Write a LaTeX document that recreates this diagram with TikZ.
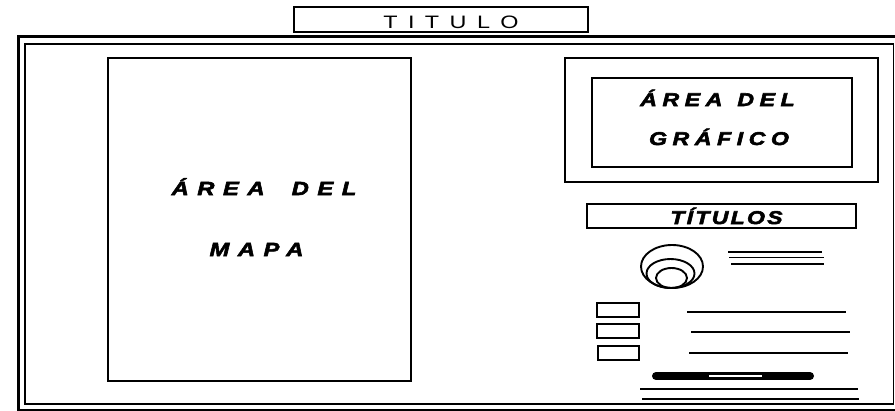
\documentclass[tikz,border=0pt]{standalone}
\usepackage{fontspec}
\setmainfont{Liberation Sans}
\newfontfamily\areafont{Liberation Sans Bold Italic}[LetterSpace=45, FakeStretch=1.25, FakeBold=3]
\newfontfamily\grfont{Liberation Sans Bold Italic}[LetterSpace=30, FakeStretch=1.25, FakeBold=3]
\newfontfamily\titfont{Liberation Sans Bold Italic}[LetterSpace=12, FakeStretch=1.25, FakeBold=3]
\newfontfamily\topfont{Liberation Sans}[LetterSpace=58, FakeStretch=1.3]
\begin{document}
\begin{tikzpicture}[x=1pt,y=-1pt,
  box/.style={draw, line width=1.4pt, inner sep=0pt},
  txt/.style={inner sep=0pt, anchor=base},
  bigtxt/.style={txt, font=\areafont\fontsize{19}{19}\selectfont},
  grtxt/.style={txt, font=\grfont\fontsize{18.5}{18.5}\selectfont},
  legline/.style={line width=1.4pt},
  ring/.style={line width=1.9pt}]
\useasboundingbox (0,0) rectangle (895,410);
% frame
\draw[line width=3pt] (18,36) rectangle (898,410);
\draw[line width=1.4pt] (25,44) rectangle (893.5,404);
% title
\node[box, minimum width=294pt, minimum height=25pt] (title) at (441,19.5) {};
\node[txt, font=\topfont\fontsize{18}{18}\selectfont] (titlet) at (451,28) {TITULO};
% map
\node[box, minimum width=303pt, minimum height=323pt] (map) at (259.5,219.5) {};
\node[bigtxt] (mapt1) at (264,195) {ÁREA\hspace{12pt} DEL};
\node[bigtxt] (mapt2) at (256.5,256) {MAPA};
% graph
\node[box, minimum width=313pt, minimum height=124pt] (graphout) at (721.5,120) {};
\node[box, minimum width=260pt, minimum height=89pt] (graphin) at (722,122.5) {};
\node[grtxt] (grt1) at (717.5,106) {ÁREA\hspace{3pt} DEL};
\node[grtxt] (grt2) at (719,145) {GRÁFICO};
% titulos
\node[box, minimum width=269pt, minimum height=24pt] (titulos) at (721.5,216) {};
\node[txt, font=\titfont\fontsize{18.5}{18.5}\selectfont] (titulost) at (726.5,224) {TÍTULOS};
% concentric ellipses
\draw[ring] (672,266.5) ellipse [x radius=31, y radius=21.5];
\draw[ring] (670.5,273.5) ellipse [x radius=24, y radius=14.5];
\draw[ring] (671.5,278) ellipse [x radius=15.5, y radius=10];
\coordinate (l1a) at (728,252); \coordinate (l1b) at (822,252);
\coordinate (l2a) at (729,257.5); \coordinate (l2b) at (824,257.5);
\coordinate (l3a) at (731,264); \coordinate (l3b) at (824,264);
\draw[legline] (l1a) -- (l1b);
\draw[legline] (l2a) -- (l2b);
\draw[legline] (l3a) -- (l3b);
% small boxes
\node[box, line width=1.8pt, minimum width=42pt, minimum height=14pt] (sb1) at (618,310) {};
\node[box, line width=1.8pt, minimum width=42pt, minimum height=14pt] (sb2) at (618,331) {};
\node[box, line width=1.8pt, minimum width=41pt, minimum height=14pt] (sb3) at (618.5,353) {};
\coordinate (m1a) at (687,312); \coordinate (m1b) at (846,312);
\coordinate (m2a) at (691,332); \coordinate (m2b) at (850,332);
\coordinate (m3a) at (689,353); \coordinate (m3b) at (848,353);
\draw[legline] (m1a) -- (m1b);
\draw[legline] (m2a) -- (m2b);
\draw[legline] (m3a) -- (m3b);
% scale bar
\coordinate (sba) at (656,376); \coordinate (sbb) at (810,376);
\draw[line width=8pt, line cap=round] (sba) -- (sbb);
\coordinate (swa) at (709,376); \coordinate (swb) at (762,376);
\draw[white, line width=2.5pt] (swa) -- (swb);
% bottom lines
\coordinate (b1a) at (640,389); \coordinate (b1b) at (858,389);
\coordinate (b2a) at (642,399); \coordinate (b2b) at (859,399);
\draw[legline] (b1a) -- (b1b);
\draw[legline] (b2a) -- (b2b);
\end{tikzpicture}
\end{document}
